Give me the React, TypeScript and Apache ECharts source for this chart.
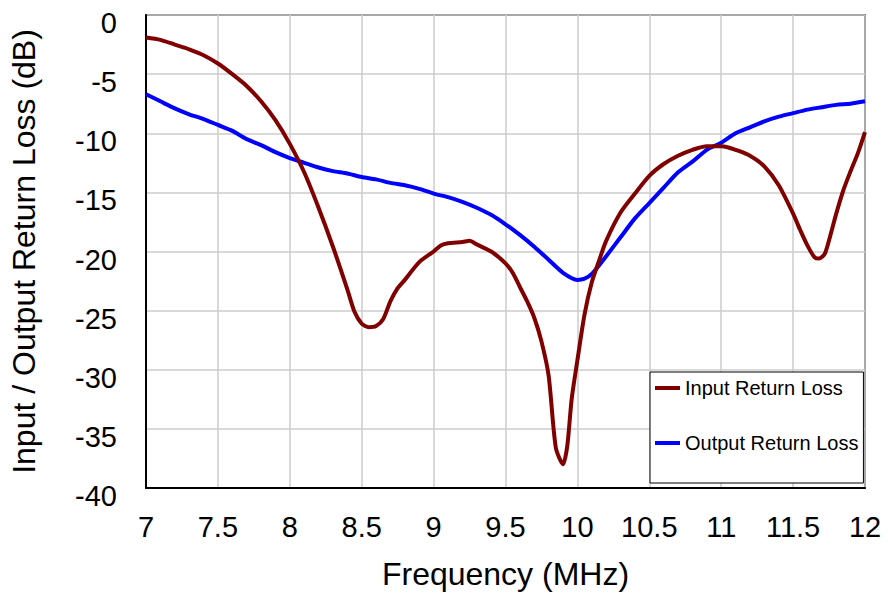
import React, { useEffect, useRef } from "react";
import * as echarts from "echarts";

const inputFreq = [
  7.0, 7.1, 7.2, 7.3, 7.4, 7.5, 7.6, 7.7, 7.8, 7.9, 8.0, 8.1, 8.2, 8.3, 8.4, 8.45, 8.5, 8.55, 8.6, 8.65,
  8.7, 8.75, 8.8, 8.9, 9.0, 9.05, 9.1, 9.2, 9.25, 9.3, 9.4, 9.5, 9.55, 9.6, 9.65, 9.7, 9.75, 9.8, 9.85,
  9.9, 9.93, 9.96, 10.0, 10.05, 10.1, 10.15, 10.2, 10.3, 10.4, 10.5, 10.6, 10.7, 10.8, 10.9, 11.0, 11.05,
  11.1, 11.2, 11.3, 11.4, 11.5, 11.55, 11.6, 11.65, 11.68, 11.72, 11.76, 11.8, 11.85, 11.9, 11.95, 12.0,
];
const inputLoss = [
  -1.9, -2.1, -2.5, -2.9, -3.4, -4.1, -5.0, -6.0, -7.3, -8.9, -10.9, -13.3, -16.3, -19.6, -23.2, -25.1,
  -26.1, -26.4, -26.3, -25.7, -24.2, -23.1, -22.4, -20.9, -20.0, -19.5, -19.3, -19.2, -19.1, -19.4, -20.0,
  -21.0, -21.8, -23.0, -24.2, -25.6, -27.6, -30.5, -36.6, -38.0, -36.4, -32.5, -29.2, -25.3, -22.6, -20.8,
  -19.1, -16.7, -15.1, -13.6, -12.6, -11.9, -11.4, -11.1, -11.1, -11.2, -11.4, -11.9, -12.8, -14.4, -16.8,
  -18.2, -19.5, -20.5, -20.6, -20.2, -18.6, -16.8, -14.8, -13.2, -11.7, -9.9,
];

const outputFreq = [
  7.0, 7.1, 7.2, 7.3, 7.4, 7.5, 7.6, 7.7, 7.8, 7.9, 8.0, 8.1, 8.2, 8.3, 8.4, 8.5, 8.6, 8.7, 8.8, 8.9, 9.0,
  9.1, 9.2, 9.3, 9.4, 9.5, 9.6, 9.7, 9.8, 9.9, 10.0, 10.05, 10.1, 10.2, 10.3, 10.4, 10.5, 10.6, 10.7, 10.8,
  10.9, 11.0, 11.1, 11.2, 11.3, 11.4, 11.5, 11.6, 11.7, 11.8, 11.9, 12.0,
];
const outputLoss = [
  -6.7, -7.3, -7.9, -8.4, -8.8, -9.3, -9.8, -10.5, -11.0, -11.6, -12.1, -12.5, -12.9, -13.2, -13.4, -13.7,
  -13.9, -14.2, -14.4, -14.7, -15.1, -15.4, -15.8, -16.3, -16.9, -17.7, -18.6, -19.6, -20.7, -21.8, -22.4,
  -22.3, -21.9, -20.4, -18.8, -17.2, -15.9, -14.6, -13.3, -12.4, -11.4, -10.8, -10.0, -9.5, -9.0, -8.6,
  -8.3, -8.0, -7.8, -7.6, -7.5, -7.3,
];

const seriesNames = ["Input Return Loss", "Output Return Loss"];
const xTitle = "Frequency (MHz)";
const yTitle = "Input / Output Return Loss (dB)";

const FONT = "'Liberation Sans', Arial, sans-serif";

export default function App() {
  const ref = useRef<HTMLDivElement>(null);

  useEffect(() => {
    document.body.style.margin = "0";
    if (!ref.current) return;
    const chart = echarts.init(ref.current, null, { renderer: "svg" });
    const pairs = (xs: number[], ys: number[]) => xs.map((x, i) => [x, ys[i]]);
    chart.setOption({
      animation: false,
      backgroundColor: "#ffffff",
      textStyle: { fontFamily: FONT },
      grid: {
        left: 146,
        right: 23,
        top: 15,
        bottom: 105,
        show: true,
        borderColor: "#000000",
        borderWidth: 1.5,
        backgroundColor: "transparent",
      },
      legend: {
        orient: "vertical",
        left: 650,
        top: 372,
        padding: [6, 5, 30, 5],
        itemGap: 35,
        itemWidth: 25,
        itemHeight: 4,
        borderColor: "#000000",
        borderWidth: 1,
        backgroundColor: "#ffffff",
        textStyle: { fontSize: 20, fontFamily: FONT, color: "#000000", lineHeight: 20 },
        data: seriesNames.map((n) => ({ name: n, icon: "rect" })),
      },
      xAxis: {
        type: "value",
        min: 7,
        max: 12,
        interval: 0.5,
        name: xTitle,
        nameLocation: "middle",
        nameGap: 70,
        nameTextStyle: { fontSize: 32, fontFamily: FONT, color: "#000000" },
        axisLine: { show: true, onZero: false, lineStyle: { color: "#000000", width: 2 } },
        axisTick: { show: false },
        axisLabel: { fontSize: 29, fontFamily: FONT, color: "#000000", margin: 24 },
        splitLine: { show: true, lineStyle: { color: "#cccccc", width: 1.5 } },
      },
      yAxis: {
        type: "value",
        min: -40,
        max: 0,
        interval: 5,
        name: yTitle,
        nameLocation: "middle",
        nameGap: 106,
        nameTextStyle: { fontSize: 32, fontFamily: FONT, color: "#000000" },
        axisLine: { show: true, onZero: false, lineStyle: { color: "#000000", width: 2 } },
        axisTick: { show: false },
        axisLabel: {
          fontSize: 29,
          fontFamily: FONT,
          color: "#000000",
          margin: 29,
          verticalAlign: "top",
          lineHeight: 16,
        },
        splitLine: { show: true, lineStyle: { color: "#cccccc", width: 1.5 } },
      },
      series: [
        {
          name: seriesNames[0],
          type: "line",
          data: pairs(inputFreq, inputLoss),
          showSymbol: false,
          smooth: 0.25,
          lineStyle: { color: "#800000", width: 4 },
          itemStyle: { color: "#800000" },
          z: 3,
        },
        {
          name: seriesNames[1],
          type: "line",
          data: pairs(outputFreq, outputLoss),
          showSymbol: false,
          smooth: 0.25,
          lineStyle: { color: "#0000ff", width: 4 },
          itemStyle: { color: "#0000ff" },
          z: 2,
        },
      ],
    });
    return () => chart.dispose();
  }, []);

  return (
    <div
      ref={ref}
      style={{ position: "fixed", left: 0, top: 0, width: 888, height: 595 }}
    />
  );
}
